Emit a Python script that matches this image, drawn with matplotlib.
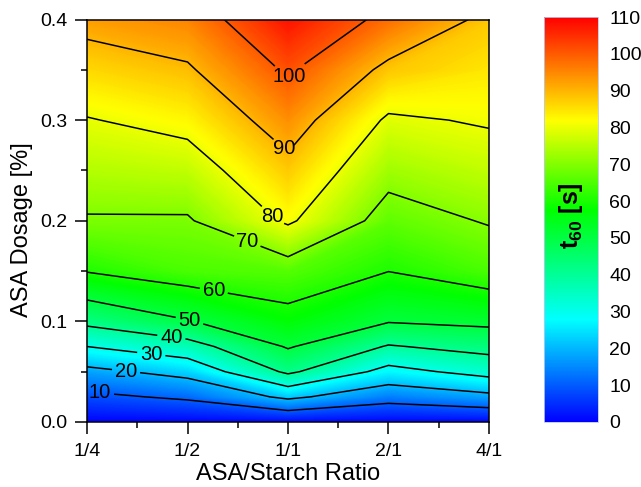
import numpy as np
import matplotlib
matplotlib.use('Agg')
import matplotlib.pyplot as plt
from matplotlib.colors import LinearSegmentedColormap, Normalize
from matplotlib.cm import ScalarMappable
from matplotlib.ticker import MultipleLocator

plt.rcParams['font.family'] = ['Liberation Sans', 'DejaVu Sans']
plt.rcParams['mathtext.fontset'] = 'custom'
plt.rcParams['mathtext.rm'] = 'Liberation Sans'
plt.rcParams['mathtext.bf'] = 'Liberation Sans:bold'
plt.rcParams['mathtext.default'] = 'bf'

# ---- data ----
ratio_labels = ['1/4', '1/2', '1/1', '2/1', '4/1']
dosage = [0.0, 0.025, 0.05, 0.075, 0.1, 0.15, 0.2, 0.25, 0.3, 0.35, 0.4]
t60_ratio_1_4 = [0.0, 8.1, 17.6, 30.0, 42.3, 60.4, 69.3, 74.6, 79.6, 86.0, 92.6]
t60_ratio_1_2 = [0.0, 11.4, 23.0, 36.1, 49.5, 64.5, 69.2, 75.8, 82.6, 89.0, 95.4]
t60_ratio_1_1 = [0.0, 21.9, 41.7, 50.8, 57.0, 65.5, 81.3, 87.6, 94.2, 101.1, 108.0]
t60_ratio_2_1 = [0.0, 13.5, 26.9, 39.3, 50.5, 60.1, 66.5, 72.7, 78.8, 88.0, 97.8]
t60_ratio_4_1 = [0.0, 17.6, 33.3, 43.2, 52.0, 64.5, 70.6, 75.9, 80.8, 84.4, 88.0]
contour_levels = [10, 20, 30, 40, 50, 60, 70, 80, 90, 100]
cbar_ticks = [0, 10, 20, 30, 40, 50, 60, 70, 80, 90, 100, 110]
y_ticks = [0.0, 0.1, 0.2, 0.3, 0.4]

x = np.arange(len(ratio_labels))
y = np.array(dosage)
Z = np.column_stack([t60_ratio_1_4, t60_ratio_1_2, t60_ratio_1_1,
                     t60_ratio_2_1, t60_ratio_4_1])
X, Y = np.meshgrid(x, y)

cmap = LinearSegmentedColormap.from_list('origin_rainbow', [
    (0.0, (0.0, 0.0, 1.0)),
    (0.252, (0.0, 1.0, 1.0)),
    (0.524, (0.0, 1.0, 0.0)),
    (0.745, (1.0, 1.0, 0.0)),
    (1.0, (1.0, 0.0, 0.0)),
], N=512)
norm = Normalize(vmin=0, vmax=110)

fig = plt.figure(figsize=(6.41, 4.87), dpi=100)
ax = fig.add_axes([87/641, 65/487, 402/641, 402.5/487])

ax.contourf(X, Y, Z, levels=np.linspace(0, 110, 441), cmap=cmap, norm=norm,
            antialiased=False)
cs = ax.contour(X, Y, Z, levels=contour_levels, colors='black', linewidths=1.1)

label_pos = [(0.13, 0.030), (0.39, 0.052), (0.64, 0.068), (0.84, 0.085),
             (1.02, 0.101), (1.26, 0.1295), (1.60, 0.181), (1.80, 0.200),
             (1.94, 0.269), (2.00, 0.345)]
texts = ax.clabel(cs, fmt='%d', fontsize=14.5, colors='black', inline=True,
                  inline_spacing=3, manual=label_pos)
for t in texts:
    t.set_rotation(0)

ax.set_xlim(0, 4)
ax.set_ylim(0, 0.4)
ax.set_xticks(x)
ax.set_xticklabels(ratio_labels)
ax.xaxis.set_minor_locator(MultipleLocator(0.5))
ax.set_yticks(y_ticks)
ax.set_yticklabels([f'{v:.1f}' for v in y_ticks])
ax.yaxis.set_minor_locator(MultipleLocator(0.05))
ax.tick_params(which='major', direction='out', length=8.3, width=1.1,
               labelsize=14, pad=6)
ax.tick_params(which='minor', direction='out', length=4.3, width=1.1)
ax.tick_params(axis='x', which='major', pad=7)
for s in ax.spines.values():
    s.set_linewidth(1.1)

ax.set_xlabel('ASA/Starch Ratio', fontsize=17, labelpad=2)
ax.set_ylabel('ASA Dosage [%]', fontsize=17)
ax.yaxis.set_label_coords(-0.134, 0.477)

cax = fig.add_axes([544/641, 65/487, 54/641, 405/487])
cb = fig.colorbar(ScalarMappable(norm=norm, cmap=cmap), cax=cax, ticks=cbar_ticks)
cb.outline.set_edgecolor('#b8c8f0')
cb.outline.set_linewidth(0.6)
cax.tick_params(length=0, labelsize=14, pad=8)
cax.text(0.5, 0.51, r't$_{60}$ [s]', transform=cax.transAxes, rotation=90,
         ha='center', va='center', fontsize=18, fontweight='bold')

fig.savefig('out.png', dpi=100)
